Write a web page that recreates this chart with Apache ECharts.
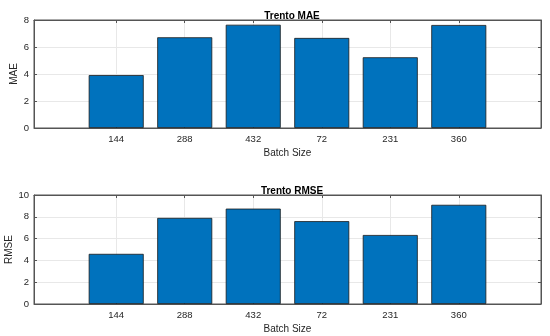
<!DOCTYPE html>
<html>
<head>
<meta charset="utf-8">
<script src="https://cdn.jsdelivr.net/npm/echarts@6/dist/echarts.min.js"></script>
<style>
html,body{margin:0;padding:0;background:#fff;}
#c{width:550px;height:336px;}
</style>
</head>
<body>
<div id="c"></div>
<script>
const categories = ['144', '288', '432', '72', '231', '360'];
const positions = [1, 2, 3, 4, 5, 6];
const maeValues = [3.92, 6.72, 7.65, 6.67, 5.24, 7.63];
const rmseValues = [4.6, 7.9, 8.75, 7.6, 6.33, 9.1];
const maeTicks = [0, 2, 4, 6, 8];
const rmseTicks = [0, 2, 4, 6, 8, 10];

const FONT = 'Liberation Sans, Arial, sans-serif';
const TXT = '#262626';
const AX = '#555555';
const GRIDC = '#e8e8e8';
const BAR = '#0072BD';

function xBottom(gi) {
  return {
    type: 'value', gridIndex: gi, position: 'bottom', min: -0.2, max: 7.2,
    name: 'Batch Size', nameLocation: 'middle', nameGap: 20, nameMoveOverlap: false,
    nameTextStyle: { fontFamily: FONT, fontSize: 10, color: TXT },
    axisLine: { show: true, onZero: false, lineStyle: { color: AX, width: 1 } },
    axisTick: { show: true, inside: true, length: 3, customValues: positions, lineStyle: { color: AX } },
    axisLabel: { show: true, customValues: positions, margin: 6, fontFamily: FONT, fontSize: 9.5, color: TXT,
      formatter: function (v) { const i = positions.indexOf(Math.round(v)); return i >= 0 ? categories[i] : ''; } },
    splitLine: { show: true, lineStyle: { color: GRIDC, width: 1 } }
  };
}
function xTop(gi) {
  return {
    type: 'value', gridIndex: gi, position: 'top', min: -0.2, max: 7.2,
    axisLine: { show: true, onZero: false, lineStyle: { color: AX, width: 1 } },
    axisTick: { show: true, inside: true, length: 3, customValues: positions, lineStyle: { color: AX } },
    axisLabel: { show: false, customValues: positions },
    splitLine: { show: false }
  };
}
function yLeft(gi, ticks, name, gap) {
  return {
    type: 'value', gridIndex: gi, position: 'left', min: ticks[0], max: ticks[ticks.length - 1], interval: 2,
    name: name, nameLocation: 'middle', nameGap: gap, nameRotate: 90, nameMoveOverlap: false,
    nameTextStyle: { fontFamily: FONT, fontSize: 10, color: TXT },
    axisLine: { show: true, onZero: false, lineStyle: { color: AX, width: 1 } },
    axisTick: { show: true, inside: true, length: 3, lineStyle: { color: AX } },
    axisLabel: { show: true, margin: 5, fontFamily: FONT, fontSize: 9.5, color: TXT },
    splitLine: { show: true, lineStyle: { color: GRIDC, width: 1 } }
  };
}
function yRight(gi, ticks) {
  return {
    type: 'value', gridIndex: gi, position: 'right', min: ticks[0], max: ticks[ticks.length - 1], interval: 2,
    axisLine: { show: true, onZero: false, lineStyle: { color: AX, width: 1 } },
    axisTick: { show: true, inside: true, length: 3, lineStyle: { color: AX } },
    axisLabel: { show: false },
    splitLine: { show: false }
  };
}

const chart = echarts.init(document.getElementById('c'), null, { renderer: 'canvas' });
chart.setOption({
  animation: false,
  backgroundColor: '#ffffff',
  title: [
    { text: 'Trento MAE', left: 287, top: 6, textAlign: 'center',
      textStyle: { fontFamily: FONT, fontSize: 10, fontWeight: 'bold', color: '#000' } },
    { text: 'Trento RMSE', left: 287, top: 181, textAlign: 'center',
      textStyle: { fontFamily: FONT, fontSize: 10, fontWeight: 'bold', color: '#000' } }
  ],
  grid: [
    { left: 34, top: 20, width: 507, height: 108, show: true, borderColor: AX, borderWidth: 1,
      backgroundColor: 'transparent', containLabel: false, outerBoundsMode: 'none' },
    { left: 34, top: 195, width: 507, height: 109, show: true, borderColor: AX, borderWidth: 1,
      backgroundColor: 'transparent', containLabel: false, outerBoundsMode: 'none' }
  ],
  xAxis: [xBottom(0), xTop(0), xBottom(1), xTop(1)],
  yAxis: [yLeft(0, maeTicks, 'MAE', 15), yRight(0, maeTicks), yLeft(1, rmseTicks, 'RMSE', 20), yRight(1, rmseTicks)],
  series: [
    { type: 'bar', xAxisIndex: 0, yAxisIndex: 0, barWidth: 55,
      data: positions.map((p, i) => [p, maeValues[i]]),
      itemStyle: { color: BAR, borderColor: '#1a1a1a', borderWidth: 0.8 } },
    { type: 'bar', xAxisIndex: 2, yAxisIndex: 2, barWidth: 55,
      data: positions.map((p, i) => [p, rmseValues[i]]),
      itemStyle: { color: BAR, borderColor: '#1a1a1a', borderWidth: 0.8 } }
  ]
});
</script>
</body>
</html>
